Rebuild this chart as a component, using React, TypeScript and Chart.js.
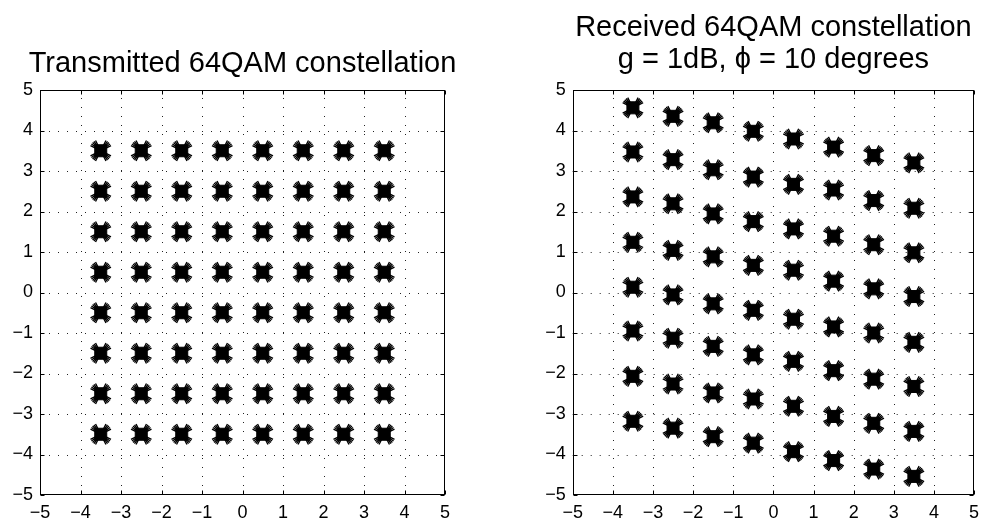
import React, { useEffect, useRef } from "react";
import { Chart, registerables } from "chart.js";

Chart.register(...registerables);

// ---- data ----
const axisTicks = [-5, -4, -3, -2, -1, 0, 1, 2, 3, 4, 5];
const symbolLevels = [-3.5, -2.5, -1.5, -0.5, 0.5, 1.5, 2.5, 3.5];

// Transmitted constellation: ideal 64QAM grid (I x Q)
const txInPhase = symbolLevels;
const txQuadrature = symbolLevels;

// Received constellation: I per column, Q values read per column (top to bottom)
const rxInPhase = [-3.5, -2.5, -1.5, -0.5, 0.5, 1.5, 2.5, 3.5];
const rxQuadCol1 = [4.56, 3.47, 2.36, 1.24, 0.13, -0.95, -2.07, -3.18];
const rxQuadCol2 = [4.35, 3.28, 2.19, 1.04, -0.06, -1.13, -2.26, -3.35];
const rxQuadCol3 = [4.19, 3.03, 1.94, 0.88, -0.28, -1.33, -2.48, -3.56];
const rxQuadCol4 = [3.98, 2.85, 1.75, 0.67, -0.44, -1.54, -2.63, -3.72];
const rxQuadCol5 = [3.79, 2.67, 1.57, 0.55, -0.66, -1.7, -2.81, -3.93];
const rxQuadCol6 = [3.59, 2.53, 1.39, 0.28, -0.85, -1.93, -3.06, -4.15];
const rxQuadCol7 = [3.38, 2.27, 1.18, 0.09, -1.0, -2.14, -3.23, -4.36];
const rxQuadCol8 = [3.2, 2.08, 0.98, -0.1, -1.23, -2.32, -3.43, -4.54];
const rxQuadColumns = [rxQuadCol1, rxQuadCol2, rxQuadCol3, rxQuadCol4, rxQuadCol5, rxQuadCol6, rxQuadCol7, rxQuadCol8];

const leftTitle = ["Transmitted 64QAM constellation"];
const rightTitle = ["Received 64QAM constellation", "g = 1dB, \u03D5 = 10 degrees"];

// ---- build point tables ----
const txPoints = txInPhase.flatMap((i) => txQuadrature.map((q) => ({ x: i, y: q })));
const rxPoints = rxInPhase.flatMap((i, k) => rxQuadColumns[k].map((q) => ({ x: i, y: q })));

const FONT = "'Liberation Sans', Arial, Helvetica, sans-serif";
const W = 987;
const H = 523;

function markerDatasets(points: { x: number; y: number }[]) {
  const core = {
    data: points,
    pointStyle: "rect",
    pointRadius: 8.5,
    pointBackgroundColor: "#000",
    pointBorderColor: "#000",
    pointBorderWidth: 1,
    showLine: false,
  };
  const crosses = [0, 9, -9, 18, -18].map((rot) => ({
    data: points,
    pointStyle: "crossRot",
    pointRadius: 11.5,
    pointRotation: rot,
    pointBorderColor: "#000",
    pointBackgroundColor: "#000",
    pointBorderWidth: 1.4,
    showLine: false,
  }));
  return [core, ...crosses];
}

function makePlugin(titleLines: string[], baselines: number[]) {
  return {
    id: "gridFrame",
    beforeDatasetsDraw(chart: any) {
      const { ctx, chartArea, scales } = chart;
      const { left, right, top, bottom } = chartArea;
      ctx.save();
      ctx.strokeStyle = "#222";
      ctx.lineWidth = 1;
      ctx.setLineDash([1, 8]);
      for (const v of axisTicks) {
        if (v === -5 || v === 5) continue;
        const px = Math.round(scales.x.getPixelForValue(v)) + 0.5;
        ctx.beginPath();
        ctx.moveTo(px, bottom);
        ctx.lineTo(px, top);
        ctx.stroke();
        const py = Math.round(scales.y.getPixelForValue(v)) + 0.5;
        ctx.beginPath();
        ctx.moveTo(left, py);
        ctx.lineTo(right, py);
        ctx.stroke();
      }
      ctx.restore();
    },
    afterDraw(chart: any) {
      const { ctx, chartArea, scales } = chart;
      const { left, right, top, bottom } = chartArea;
      ctx.save();
      ctx.strokeStyle = "#000";
      ctx.lineWidth = 1;
      ctx.setLineDash([]);
      const l = Math.round(left) + 0.5;
      const r = Math.round(right) - 0.5;
      const t = Math.round(top) + 0.5;
      const b = Math.round(bottom) - 0.5;
      ctx.strokeRect(l, t, r - l, b - t);
      const tl = 4;
      for (const v of axisTicks) {
        const px = Math.round(scales.x.getPixelForValue(v)) + 0.5;
        ctx.beginPath();
        ctx.moveTo(px, b);
        ctx.lineTo(px, b - tl);
        ctx.moveTo(px, t);
        ctx.lineTo(px, t + tl);
        ctx.stroke();
        const py = Math.round(scales.y.getPixelForValue(v)) + 0.5;
        ctx.beginPath();
        ctx.moveTo(l, py);
        ctx.lineTo(l + tl, py);
        ctx.moveTo(r, py);
        ctx.lineTo(r - tl, py);
        ctx.stroke();
      }
      // title
      ctx.fillStyle = "#000";
      ctx.font = `29px ${FONT}`;
      ctx.textAlign = "center";
      ctx.textBaseline = "alphabetic";
      const cx = (left + right) / 2;
      titleLines.forEach((line, i) => ctx.fillText(line, cx, baselines[i]));
      ctx.restore();
    },
  };
}

function makeConfig(points: any[], titleLines: string[], baselines: number[], padding: any) {
  const fmt = (v: any) => String(v).replace("-", "\u2212");
  return {
    type: "scatter",
    data: { datasets: markerDatasets(points) },
    plugins: [makePlugin(titleLines, baselines)],
    options: {
      responsive: false,
      animation: false,
      devicePixelRatio: 1,
      layout: { padding },
      plugins: {
        legend: { display: false },
        tooltip: { enabled: false },
        title: { display: false },
      },
      scales: {
        x: {
          type: "linear",
          min: -5,
          max: 5,
          afterBuildTicks: (s: any) => {
            s.ticks = axisTicks.map((v) => ({ value: v }));
          },
          afterFit: (s: any) => {
            s.height = 28;
          },
          grid: { display: false, drawTicks: false },
          border: { display: false },
          ticks: {
            color: "#000",
            padding: 7,
            maxRotation: 0,
            autoSkip: false,
            font: { family: FONT, size: 18 },
            callback: fmt,
          },
        },
        y: {
          type: "linear",
          min: -5,
          max: 5,
          afterBuildTicks: (s: any) => {
            s.ticks = axisTicks.map((v) => ({ value: v }));
          },
          afterFit: (s: any) => {
            s.width = 30;
          },
          grid: { display: false, drawTicks: false },
          border: { display: false },
          ticks: {
            color: "#000",
            padding: 7,
            autoSkip: false,
            font: { family: FONT, size: 18 },
            callback: fmt,
          },
        },
      },
    },
  };
}

function ChartCanvas({ config }: { config: any }) {
  const ref = useRef<HTMLCanvasElement | null>(null);
  useEffect(() => {
    if (!ref.current) return;
    const chart = new Chart(ref.current, config);
    return () => chart.destroy();
  }, [config]);
  return (
    <canvas
      ref={ref}
      width={W}
      height={H}
      style={{ position: "absolute", left: 0, top: 0, width: W, height: H }}
    />
  );
}

const leftConfig = makeConfig(txPoints, leftTitle, [71.7], { left: 10, right: 542, top: 90, bottom: 0 });
const rightConfig = makeConfig(rxPoints, rightTitle, [35.8, 67.5], { left: 542.7, right: 10, top: 90, bottom: 0 });

export default function App() {
  return (
    <div style={{ position: "fixed", left: 0, top: 0, width: W, height: H, background: "#fff", overflow: "hidden" }}>
      <ChartCanvas config={leftConfig} />
      <ChartCanvas config={rightConfig} />
    </div>
  );
}
